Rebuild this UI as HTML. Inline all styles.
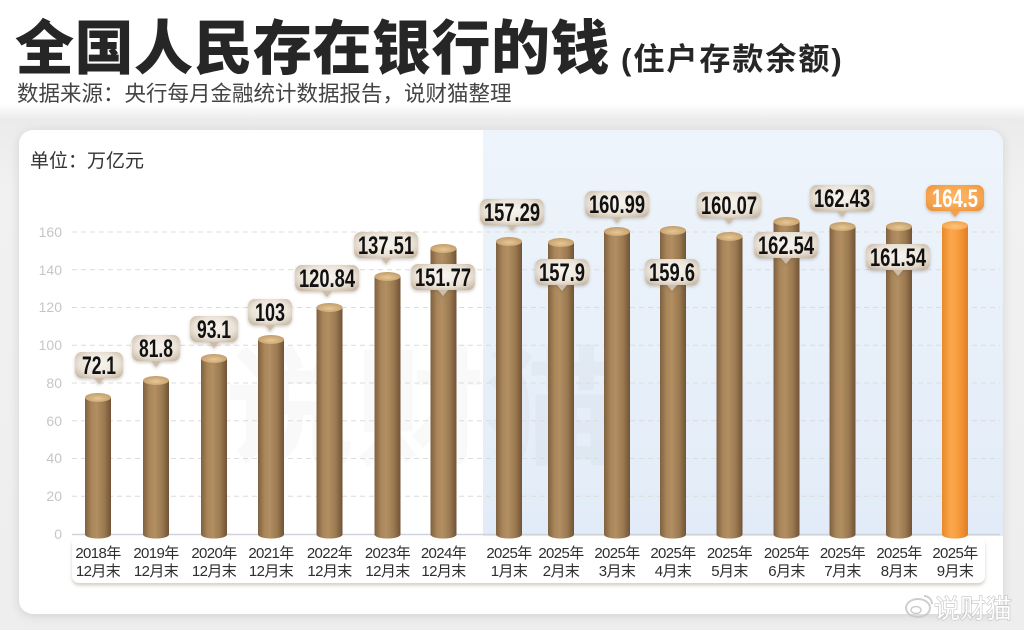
<!DOCTYPE html>
<html><head><meta charset="utf-8"><style>
html,body{margin:0;padding:0;}
body{width:1024px;height:630px;overflow:hidden;background:#fff;}
svg{display:block;}
</style></head><body>
<svg width="1024" height="630" viewBox="0 0 1024 630" xmlns="http://www.w3.org/2000/svg">
<defs>
  <linearGradient id="bg" x1="0" y1="0" x2="0" y2="1">
    <stop offset="0" stop-color="#ffffff"/>
    <stop offset="0.165" stop-color="#ffffff"/>
    <stop offset="0.19" stop-color="#ebebeb"/>
    <stop offset="0.3" stop-color="#f1f1f1"/>
    <stop offset="1" stop-color="#eeeeee"/>
  </linearGradient>
  <linearGradient id="barG" x1="0" y1="0" x2="1" y2="0">
    <stop offset="0" stop-color="#7f6040"/>
    <stop offset="0.25" stop-color="#a9865a"/>
    <stop offset="0.45" stop-color="#b28f62"/>
    <stop offset="0.75" stop-color="#9a7950"/>
    <stop offset="1" stop-color="#705236"/>
  </linearGradient>
  <radialGradient id="topG" cx="0.5" cy="0.6" r="0.6">
    <stop offset="0" stop-color="#e6c896"/>
    <stop offset="1" stop-color="#c29b69"/>
  </radialGradient>
  <linearGradient id="orG" x1="0" y1="0" x2="1" y2="0">
    <stop offset="0" stop-color="#e8892a"/>
    <stop offset="0.35" stop-color="#fba74c"/>
    <stop offset="0.6" stop-color="#f89d3e"/>
    <stop offset="1" stop-color="#e27f22"/>
  </linearGradient>
  <radialGradient id="orTop" cx="0.5" cy="0.6" r="0.6">
    <stop offset="0" stop-color="#fdc57a"/>
    <stop offset="1" stop-color="#f6a24a"/>
  </radialGradient>
  <radialGradient id="callG" cx="0.5" cy="0.45" r="0.7">
    <stop offset="0" stop-color="#f8f5f0"/>
    <stop offset="0.6" stop-color="#ebe3d8"/>
    <stop offset="1" stop-color="#c2b19b"/>
  </radialGradient>
  <radialGradient id="callO" cx="0.5" cy="0.45" r="0.7">
    <stop offset="0" stop-color="#fbb768"/>
    <stop offset="0.6" stop-color="#f7a650"/>
    <stop offset="1" stop-color="#e9913a"/>
  </radialGradient>
  <linearGradient id="blueG" x1="0" y1="0" x2="0" y2="1">
    <stop offset="0" stop-color="#eef4fb"/>
    <stop offset="1" stop-color="#e2ecf8"/>
  </linearGradient>
  <filter id="cardSh" x="-5%" y="-5%" width="110%" height="112%">
    <feDropShadow dx="0" dy="2" stdDeviation="5" flood-color="#000" flood-opacity="0.12"/>
  </filter>
  <filter id="callSh" x="-20%" y="-20%" width="140%" height="150%">
    <feDropShadow dx="0" dy="1.5" stdDeviation="1.5" flood-color="#6b5a44" flood-opacity="0.35"/>
  </filter>
  <filter id="stripSh" x="-2%" y="-20%" width="104%" height="150%">
    <feDropShadow dx="0" dy="2.5" stdDeviation="1.5" flood-color="#a8987e" flood-opacity="0.45"/>
  </filter>
  <clipPath id="cardClip"><rect x="19" y="130" width="984" height="484" rx="14"/></clipPath>
</defs>

<rect x="0" y="0" width="1024" height="630" fill="url(#bg)"/>

<!-- Title -->
<text x="15" y="69" font-family="'Liberation Sans','Noto Sans CJK SC',sans-serif" font-size="59" font-weight="900" fill="#262626" letter-spacing="0.5">全国人民存在银行的钱</text>
<text x="621" y="70" font-family="'Liberation Sans','Noto Sans CJK SC',sans-serif" font-size="31" font-weight="700" fill="#262626" letter-spacing="2">(住户存款余额)</text>
<text x="17" y="101" font-family="'Liberation Sans','Noto Sans CJK SC',sans-serif" font-size="21.5" fill="#444444">数据来源：央行每月金融统计数据报告，说财猫整理</text>

<!-- Card -->
<rect x="19" y="130" width="984" height="484" rx="14" fill="#ffffff" filter="url(#cardSh)"/>
<g clip-path="url(#cardClip)">
  <rect x="483" y="130" width="522" height="406" fill="url(#blueG)"/>
</g>

<!-- faint background watermark -->
<text x="225" y="455" font-family="'Liberation Sans','Noto Sans CJK SC',sans-serif" font-size="130" font-weight="700" fill="#000" opacity="0.018">说财猫</text>

<text x="30" y="167" font-family="'Liberation Sans','Noto Sans CJK SC',sans-serif" font-size="19" fill="#333">单位：万亿元</text>

<!-- gridlines -->
<g stroke="#dcdcdc" stroke-width="1" stroke-dasharray="5,4">
  <line x1="72" y1="496.3" x2="1000" y2="496.3"/>
  <line x1="72" y1="458.5" x2="1000" y2="458.5"/>
  <line x1="72" y1="420.8" x2="1000" y2="420.8"/>
  <line x1="72" y1="383" x2="1000" y2="383"/>
  <line x1="72" y1="345.3" x2="1000" y2="345.3"/>
  <line x1="72" y1="307.5" x2="1000" y2="307.5"/>
  <line x1="72" y1="269.8" x2="1000" y2="269.8"/>
  <line x1="72" y1="232" x2="1000" y2="232"/>
</g>
<line x1="72" y1="534.5" x2="1000" y2="534.5" stroke="#cdd4dc" stroke-width="1.5"/>

<!-- y tick labels -->
<g font-family="'Liberation Sans',sans-serif" font-size="14" fill="#c6c6c6" text-anchor="end">
  <text x="62" y="539">0</text>
  <text x="62" y="501">20</text>
  <text x="62" y="463">40</text>
  <text x="62" y="426">60</text>
  <text x="62" y="388">80</text>
  <text x="62" y="350">100</text>
  <text x="62" y="312">120</text>
  <text x="62" y="275">140</text>
  <text x="62" y="237">160</text>
</g>

<!-- x label strip -->
<rect x="72" y="537" width="913" height="46" rx="7" fill="#ffffff" filter="url(#stripSh)"/>

<!-- Bars -->
<g>
  <rect x="85" y="397.5" width="26" height="137" fill="url(#barG)"/><ellipse cx="98" cy="534.5" rx="13" ry="4" fill="url(#barG)"/><ellipse cx="98" cy="397.5" rx="13" ry="4.5" fill="url(#topG)"/>
  <rect x="143" y="380.5" width="26" height="154" fill="url(#barG)"/><ellipse cx="156" cy="534.5" rx="13" ry="4" fill="url(#barG)"/><ellipse cx="156" cy="380.5" rx="13" ry="4.5" fill="url(#topG)"/>
  <rect x="201" y="358.5" width="26" height="176" fill="url(#barG)"/><ellipse cx="214" cy="534.5" rx="13" ry="4" fill="url(#barG)"/><ellipse cx="214" cy="358.5" rx="13" ry="4.5" fill="url(#topG)"/>
  <rect x="258" y="339.5" width="26" height="195" fill="url(#barG)"/><ellipse cx="271" cy="534.5" rx="13" ry="4" fill="url(#barG)"/><ellipse cx="271" cy="339.5" rx="13" ry="4.5" fill="url(#topG)"/>
  <rect x="316.5" y="307.5" width="26" height="227" fill="url(#barG)"/><ellipse cx="329.5" cy="534.5" rx="13" ry="4" fill="url(#barG)"/><ellipse cx="329.5" cy="307.5" rx="13" ry="4.5" fill="url(#topG)"/>
  <rect x="374.5" y="276.5" width="26" height="258" fill="url(#barG)"/><ellipse cx="387.5" cy="534.5" rx="13" ry="4" fill="url(#barG)"/><ellipse cx="387.5" cy="276.5" rx="13" ry="4.5" fill="url(#topG)"/>
  <rect x="430.5" y="248.5" width="26" height="286" fill="url(#barG)"/><ellipse cx="443.5" cy="534.5" rx="13" ry="4" fill="url(#barG)"/><ellipse cx="443.5" cy="248.5" rx="13" ry="4.5" fill="url(#topG)"/>
  <rect x="496" y="241.5" width="26" height="293" fill="url(#barG)"/><ellipse cx="509" cy="534.5" rx="13" ry="4" fill="url(#barG)"/><ellipse cx="509" cy="241.5" rx="13" ry="4.5" fill="url(#topG)"/>
  <rect x="548" y="242.5" width="26" height="292" fill="url(#barG)"/><ellipse cx="561" cy="534.5" rx="13" ry="4" fill="url(#barG)"/><ellipse cx="561" cy="242.5" rx="13" ry="4.5" fill="url(#topG)"/>
  <rect x="604" y="231.5" width="26" height="303" fill="url(#barG)"/><ellipse cx="617" cy="534.5" rx="13" ry="4" fill="url(#barG)"/><ellipse cx="617" cy="231.5" rx="13" ry="4.5" fill="url(#topG)"/>
  <rect x="660" y="230.5" width="26" height="304" fill="url(#barG)"/><ellipse cx="673" cy="534.5" rx="13" ry="4" fill="url(#barG)"/><ellipse cx="673" cy="230.5" rx="13" ry="4.5" fill="url(#topG)"/>
  <rect x="716.5" y="236.5" width="26" height="298" fill="url(#barG)"/><ellipse cx="729.5" cy="534.5" rx="13" ry="4" fill="url(#barG)"/><ellipse cx="729.5" cy="236.5" rx="13" ry="4.5" fill="url(#topG)"/>
  <rect x="773.5" y="221.5" width="26" height="313" fill="url(#barG)"/><ellipse cx="786.5" cy="534.5" rx="13" ry="4" fill="url(#barG)"/><ellipse cx="786.5" cy="221.5" rx="13" ry="4.5" fill="url(#topG)"/>
  <rect x="829.5" y="226.5" width="26" height="308" fill="url(#barG)"/><ellipse cx="842.5" cy="534.5" rx="13" ry="4" fill="url(#barG)"/><ellipse cx="842.5" cy="226.5" rx="13" ry="4.5" fill="url(#topG)"/>
  <rect x="886" y="226.5" width="26" height="308" fill="url(#barG)"/><ellipse cx="899" cy="534.5" rx="13" ry="4" fill="url(#barG)"/><ellipse cx="899" cy="226.5" rx="13" ry="4.5" fill="url(#topG)"/>
  <rect x="942" y="225.5" width="26" height="309" fill="url(#orG)"/><ellipse cx="955" cy="534.5" rx="13" ry="4" fill="url(#orG)"/><ellipse cx="955" cy="225.5" rx="13" ry="4.5" fill="url(#orTop)"/>
</g>

<!-- Callouts -->
<g font-family="'Liberation Sans Narrow','Liberation Sans',sans-serif" font-weight="700" font-size="25" fill="#111" text-anchor="middle">
  <g filter="url(#callSh)">
    <rect x="75" y="352" width="48" height="26" rx="7" fill="url(#callG)"/><path d="M94,378 L99,384 L104,378 Z" fill="#cdbda8"/>
    <rect x="132" y="335" width="48" height="26" rx="7" fill="url(#callG)"/><path d="M151,361 L156,367 L161,361 Z" fill="#cdbda8"/>
    <rect x="190" y="316" width="48" height="26" rx="7" fill="url(#callG)"/><path d="M209,342 L214,348 L219,342 Z" fill="#cdbda8"/>
    <rect x="248" y="299" width="44" height="26" rx="7" fill="url(#callG)"/><path d="M265,325 L270,331 L275,325 Z" fill="#cdbda8"/>
    <rect x="295" y="265" width="64" height="26" rx="7" fill="url(#callG)"/><path d="M322,291 L327,297 L332,291 Z" fill="#cdbda8"/>
    <rect x="354" y="232" width="64" height="26" rx="7" fill="url(#callG)"/><path d="M381,258 L386,264 L391,258 Z" fill="#cdbda8"/>
    <rect x="411" y="264" width="64" height="26" rx="7" fill="url(#callG)"/><path d="M438,290 L443,296 L448,290 Z" fill="#cdbda8"/>
    <rect x="480" y="199" width="64" height="26" rx="7" fill="url(#callG)"/><path d="M507,225 L512,231 L517,225 Z" fill="#cdbda8"/>
    <rect x="535" y="259" width="54" height="26" rx="7" fill="url(#callG)"/><path d="M557,285 L562,291 L567,285 Z" fill="#cdbda8"/>
    <rect x="585" y="191" width="64" height="26" rx="7" fill="url(#callG)"/><path d="M612,217 L617,223 L622,217 Z" fill="#cdbda8"/>
    <rect x="645" y="259" width="54" height="26" rx="7" fill="url(#callG)"/><path d="M667,285 L672,291 L677,285 Z" fill="#cdbda8"/>
    <rect x="697" y="192" width="64" height="26" rx="7" fill="url(#callG)"/><path d="M724,218 L729,224 L734,218 Z" fill="#cdbda8"/>
    <rect x="754" y="232" width="64" height="26" rx="7" fill="url(#callG)"/><path d="M781,258 L786,264 L791,258 Z" fill="#cdbda8"/>
    <rect x="810" y="185" width="64" height="26" rx="7" fill="url(#callG)"/><path d="M837,211 L842,217 L847,211 Z" fill="#cdbda8"/>
    <rect x="866" y="244" width="64" height="26" rx="7" fill="url(#callG)"/><path d="M893,270 L898,276 L903,270 Z" fill="#cdbda8"/>
    <rect x="926" y="185" width="58" height="26" rx="7" fill="url(#callO)"/><path d="M950,211 L955,217 L960,211 Z" fill="#f2a04c"/>
  </g>
  <text x="99" y="374" textLength="34" lengthAdjust="spacingAndGlyphs">72.1</text>
  <text x="156" y="357" textLength="34" lengthAdjust="spacingAndGlyphs">81.8</text>
  <text x="214" y="338" textLength="34" lengthAdjust="spacingAndGlyphs">93.1</text>
  <text x="270" y="321" textLength="30" lengthAdjust="spacingAndGlyphs">103</text>
  <text x="327" y="287" textLength="56" lengthAdjust="spacingAndGlyphs">120.84</text>
  <text x="386" y="254" textLength="56" lengthAdjust="spacingAndGlyphs">137.51</text>
  <text x="443" y="286" textLength="56" lengthAdjust="spacingAndGlyphs">151.77</text>
  <text x="512" y="221" textLength="56" lengthAdjust="spacingAndGlyphs">157.29</text>
  <text x="562" y="281" textLength="46" lengthAdjust="spacingAndGlyphs">157.9</text>
  <text x="617" y="213" textLength="56" lengthAdjust="spacingAndGlyphs">160.99</text>
  <text x="672" y="281" textLength="46" lengthAdjust="spacingAndGlyphs">159.6</text>
  <text x="729" y="214" textLength="56" lengthAdjust="spacingAndGlyphs">160.07</text>
  <text x="786" y="254" textLength="56" lengthAdjust="spacingAndGlyphs">162.54</text>
  <text x="842" y="207" textLength="56" lengthAdjust="spacingAndGlyphs">162.43</text>
  <text x="898" y="266" textLength="56" lengthAdjust="spacingAndGlyphs">161.54</text>
  <text x="955" y="207" textLength="46" lengthAdjust="spacingAndGlyphs" fill="#ffffff">164.5</text>
</g>

<!-- X labels -->
<g font-family="'Liberation Sans','Noto Sans CJK SC',sans-serif" font-size="15" fill="#2e2e2e" text-anchor="middle" letter-spacing="-0.6">
  <text x="98" y="558">2018年</text><text x="98" y="576">12月末</text>
  <text x="156" y="558">2019年</text><text x="156" y="576">12月末</text>
  <text x="214" y="558">2020年</text><text x="214" y="576">12月末</text>
  <text x="271" y="558">2021年</text><text x="271" y="576">12月末</text>
  <text x="329.5" y="558">2022年</text><text x="329.5" y="576">12月末</text>
  <text x="387.5" y="558">2023年</text><text x="387.5" y="576">12月末</text>
  <text x="443.5" y="558">2024年</text><text x="443.5" y="576">12月末</text>
  <text x="509" y="558">2025年</text><text x="509" y="576">1月末</text>
  <text x="561" y="558">2025年</text><text x="561" y="576">2月末</text>
  <text x="617" y="558">2025年</text><text x="617" y="576">3月末</text>
  <text x="673" y="558">2025年</text><text x="673" y="576">4月末</text>
  <text x="729.5" y="558">2025年</text><text x="729.5" y="576">5月末</text>
  <text x="786.5" y="558">2025年</text><text x="786.5" y="576">6月末</text>
  <text x="842.5" y="558">2025年</text><text x="842.5" y="576">7月末</text>
  <text x="899" y="558">2025年</text><text x="899" y="576">8月末</text>
  <text x="955" y="558">2025年</text><text x="955" y="576">9月末</text>
</g>

<!-- Weibo watermark -->
<g opacity="0.9">
  <ellipse cx="918" cy="608" rx="12" ry="9" fill="none" stroke="#c9c9c9" stroke-width="2"/>
  <ellipse cx="916" cy="610" rx="5" ry="3.5" fill="none" stroke="#c9c9c9" stroke-width="1.5"/>
  <path d="M924,596 a8,8 0 0 1 8,8" fill="none" stroke="#c9c9c9" stroke-width="2"/>
  <text x="934" y="618" font-family="'Liberation Sans','Noto Sans CJK SC',sans-serif" font-size="26" fill="#ffffff" stroke="#bdbdbd" stroke-width="1.2" paint-order="stroke">说财猫</text>
</g>
</svg>
</body></html>
